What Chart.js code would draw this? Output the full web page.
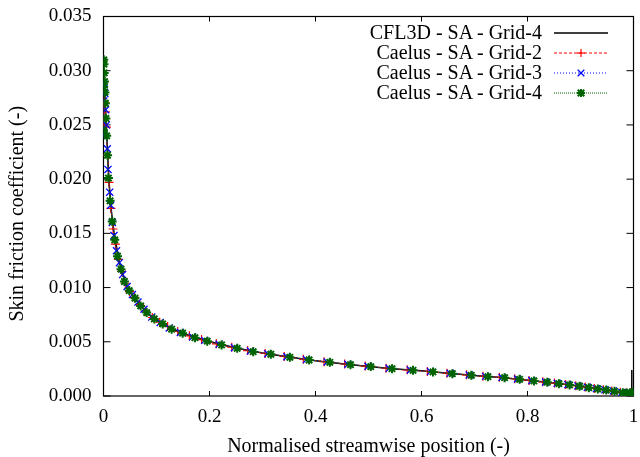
<!DOCTYPE html>
<html>
<head>
<meta charset="utf-8">
<script src="https://cdn.jsdelivr.net/npm/chart.js@4.4.1/dist/chart.umd.min.js"></script>
<style>
  html, body { margin: 0; padding: 0; background: #fff; }
  #wrap { position: relative; width: 640px; height: 457px; }
  #legend { position: absolute; left: 0; top: 0; width: 640px; height: 457px; pointer-events: none;
            font-family: "Liberation Serif", "DejaVu Serif", serif; font-size: 20px; color: #000; }
  .lt { position: absolute; right: 98px; white-space: nowrap; line-height: 20px; text-align: right; }
  .ls { position: absolute; left: 554px; width: 54px; height: 20px; }
</style>
</head>
<body>
<div id="wrap">
  <canvas id="c" width="640" height="457"></canvas>
  <div id="legend"></div>
</div>
<script>
// ---- data ----
const xTickLabels = ['0', '0.2', '0.4', '0.6', '0.8', '1'];
const yTickLabels = ['0.000', '0.005', '0.010', '0.015', '0.020', '0.025', '0.030', '0.035'];

const seriesNames = ['CFL3D - SA - Grid-4', 'Caelus - SA - Grid-2', 'Caelus - SA - Grid-3', 'Caelus - SA - Grid-4'];

const cflX = [0, 0.0005, 0.001, 0.002, 0.004, 0.007, 0.01, 0.015, 0.02, 0.03,
  0.04, 0.05, 0.06, 0.08, 0.1, 0.125, 0.15, 0.2, 0.25, 0.3,
  0.35, 0.4, 0.45, 0.5, 0.55, 0.6, 0.65, 0.7, 0.75, 0.8,
  0.85, 0.9, 0.95, 0.98, 0.9955, 0.9968];
const cflY = [0.0250, 0.0300, 0.0300, 0.0285, 0.0262, 0.0232, 0.0200, 0.0170, 0.0150, 0.0123,
  0.01065, 0.00955, 0.00895, 0.00775, 0.0070, 0.00625, 0.00577, 0.00502, 0.00443, 0.00397,
  0.00359, 0.00326, 0.00298, 0.00273, 0.0025, 0.00232, 0.0021, 0.00189, 0.0017, 0.00146,
  0.0012, 0.00089, 0.00054, 0.0003, 0.00022, 0.0024];

const g2X = [0, 0.0004, 0.001, 0.002, 0.0035, 0.0055, 0.0078, 0.0105, 0.014, 0.018,
  0.0225, 0.028, 0.034, 0.041, 0.049, 0.058, 0.068, 0.079, 0.092, 0.106,
  0.121, 0.14, 0.162, 0.185, 0.213, 0.242, 0.272, 0.305, 0.341, 0.377,
  0.416, 0.455, 0.494, 0.533, 0.573, 0.611, 0.648, 0.685, 0.716, 0.747,
  0.776, 0.803, 0.829, 0.851, 0.872, 0.891, 0.909, 0.926, 0.943, 0.959,
  0.975, 0.986, 0.994, 0.998];
const g2Y = [0.0250, 0.0268, 0.0272, 0.0270, 0.0262, 0.0248, 0.0222, 0.0197, 0.0173, 0.0154,
  0.0140, 0.0126, 0.0115, 0.0104, 0.00962, 0.0091, 0.00843, 0.00782, 0.00724, 0.0068,
  0.00642, 0.00595, 0.00555, 0.0052, 0.00481, 0.0045, 0.00419, 0.00393, 0.00365, 0.0034,
  0.00317, 0.00295, 0.00276, 0.00257, 0.00241, 0.00226, 0.0021, 0.00195, 0.00182, 0.00172,
  0.00159, 0.00144, 0.00131, 0.00119, 0.00106, 0.00095, 0.00082, 0.0007, 0.00058, 0.00047,
  0.00034, 0.00028, 0.00027, 0.0003];

const g3X = [0, 0.0003, 0.0008, 0.0015, 0.0025, 0.004, 0.0055, 0.0072, 0.0085,
  0.0117, 0.0136, 0.0166, 0.0198, 0.0245, 0.03, 0.036, 0.0445, 0.0545,
  0.065, 0.0765, 0.091, 0.107, 0.124, 0.145, 0.168, 0.191, 0.218, 0.247,
  0.277, 0.31, 0.346, 0.383, 0.422, 0.461, 0.499, 0.539, 0.579, 0.617,
  0.654, 0.69, 0.721, 0.752, 0.781, 0.808, 0.834, 0.856, 0.876, 0.895,
  0.913, 0.93, 0.946, 0.962, 0.978, 0.988, 0.995, 0.9985];
const g3Y = [0.0240, 0.0272, 0.0289, 0.0287, 0.0279, 0.0264, 0.0250, 0.0228, 0.0209,
  0.0188, 0.0176, 0.0160, 0.0148, 0.0134, 0.0123, 0.0112, 0.0101, 0.00935,
  0.00866, 0.008, 0.00728, 0.00678, 0.00628, 0.00586, 0.00545, 0.00513, 0.00478, 0.00446,
  0.00416, 0.0039, 0.00362, 0.00336, 0.00314, 0.00293, 0.00274, 0.00255, 0.0024, 0.00225,
  0.00209, 0.00194, 0.00181, 0.00171, 0.00157, 0.00142, 0.00129, 0.00117, 0.00105, 0.00093,
  0.0008, 0.00068, 0.00057, 0.00046, 0.00033, 0.00028, 0.00028, 0.00033];

const g4X = [0, 0.0002, 0.0005, 0.0009, 0.0014, 0.002, 0.0027, 0.0035, 0.0045,
  0.006, 0.0075, 0.0093, 0.0125, 0.0165, 0.0212, 0.0265, 0.033, 0.0395,
  0.0486, 0.0594, 0.0701, 0.0814, 0.0958, 0.1116, 0.1286, 0.1493, 0.1725, 0.1957,
  0.2228, 0.2522, 0.2824, 0.3157, 0.3516, 0.3879, 0.427, 0.466, 0.5042, 0.5444,
  0.584, 0.6217, 0.6582, 0.694, 0.7253, 0.7568, 0.7851, 0.8121, 0.8373, 0.8592,
  0.8794, 0.8982, 0.9157, 0.9327, 0.9485, 0.9642, 0.9798, 0.9875, 0.9935, 0.9975,
  0.9995];
const g4Y = [0.0245, 0.0285, 0.0310, 0.0306, 0.0298, 0.0290, 0.0280, 0.0270, 0.0256,
  0.0240, 0.0222, 0.0201, 0.0180, 0.0161, 0.0144, 0.0129, 0.0117, 0.01056,
  0.00972, 0.00902, 0.00831, 0.00769, 0.00711, 0.00665, 0.00616, 0.00579, 0.00538, 0.00506,
  0.00471, 0.0044, 0.00409, 0.00385, 0.00357, 0.00332, 0.00311, 0.00289, 0.00271, 0.00252,
  0.00237, 0.00222, 0.00206, 0.00191, 0.00178, 0.00169, 0.00154, 0.00139, 0.00127, 0.00114,
  0.00102, 0.0009, 0.00077, 0.00065, 0.00055, 0.00043, 0.0003, 0.00027, 0.00027, 0.0003,
  0.00035];

// ---- styling ----
const FONT = '"Liberation Serif", "DejaVu Serif", serif';
const colors = ['#000000', '#ff0000', '#0000ff', '#006400'];
const pts = (xs, ys) => xs.map((v, i) => ({x: v, y: ys[i]}));

const framePlugin = {
  id: 'frame',
  beforeDatasetsDraw(chart) {
    const {ctx, chartArea: a, scales: {x, y}} = chart;
    ctx.save();
    ctx.strokeStyle = '#000';
    ctx.lineWidth = 1;
    ctx.beginPath();
    x.ticks.forEach(t => {
      const px = x.getPixelForValue(t.value);
      ctx.moveTo(px, a.bottom); ctx.lineTo(px, a.bottom - 5);
      ctx.moveTo(px, a.top); ctx.lineTo(px, a.top + 5);
    });
    y.ticks.forEach(t => {
      const py = y.getPixelForValue(t.value);
      ctx.moveTo(a.left, py); ctx.lineTo(a.left + 7, py);
      ctx.moveTo(a.right, py); ctx.lineTo(a.right - 7, py);
    });
    ctx.stroke();
    ctx.lineWidth = 1.2;
    ctx.strokeRect(a.left, a.top, a.right - a.left, a.bottom - a.top);
    ctx.restore();
  }
};

new Chart(document.getElementById('c'), {
  type: 'scatter',
  data: {
    datasets: [
      { label: seriesNames[0], data: pts(cflX, cflY), showLine: true, borderColor: colors[0],
        borderWidth: 1.5, pointRadius: 0, order: 3 },
      { label: seriesNames[1], data: pts(g2X, g2Y), showLine: true, borderColor: colors[1],
        backgroundColor: colors[1], borderWidth: 1, borderDash: [3, 2], pointStyle: 'cross',
        pointRadius: 4.5, pointBorderWidth: 1.2, pointBorderColor: colors[1], order: 2 },
      { label: seriesNames[2], data: pts(g3X, g3Y), showLine: true, borderColor: colors[2],
        backgroundColor: colors[2], borderWidth: 1, borderDash: [1, 2], pointStyle: 'crossRot',
        pointRadius: 5, pointBorderWidth: 1.3, pointBorderColor: colors[2], order: 1 },
      { label: seriesNames[3], data: pts(g4X, g4Y), showLine: true, borderColor: colors[3],
        backgroundColor: colors[3], borderWidth: 1, borderDash: [1, 1], pointStyle: 'star',
        pointRadius: 4.5, pointBorderWidth: 2, pointBorderColor: colors[3], order: 0 }
    ]
  },
  options: {
    responsive: false,
    devicePixelRatio: 1,
    animation: false,
    events: [],
    elements: { line: { tension: 0, fill: false } },
    layout: { padding: { top: 16.5, right: 6, left: 0, bottom: 0 } },
    plugins: { legend: { display: false }, tooltip: { enabled: false } },
    scales: {
      x: {
        type: 'linear', min: 0, max: 1,
        afterFit: s => { s.height = 61; s.paddingLeft = 0; s.paddingRight = 0; },
        grid: { display: false, drawTicks: false },
        border: { display: false },
        ticks: { stepSize: 0.2, padding: 10, color: '#000', maxRotation: 0,
                 font: { family: FONT, size: 19 },
                 callback: (v, i) => xTickLabels[i] },
        title: { display: true, text: 'Normalised streamwise position (-)', color: '#000',
                 font: { family: FONT, size: 20, lineHeight: 1 }, padding: { top: 0, bottom: 0 } }
      },
      y: {
        type: 'linear', min: 0, max: 0.035,
        afterFit: s => { s.width = 103.5; s.paddingTop = 0; s.paddingBottom = 0; },
        grid: { display: false, drawTicks: false },
        border: { display: false },
        ticks: { stepSize: 0.005, padding: 12, color: '#000',
                 font: { family: FONT, size: 19 },
                 callback: (v, i) => yTickLabels[i] },
        title: { display: true, text: 'Skin friction coefficient (-)   ', color: '#000',
                 font: { family: FONT, size: 20, lineHeight: 1 }, padding: { top: 7.5, bottom: 0 } }
      }
    }
  },
  plugins: [framePlugin]
});

// ---- gnuplot-style legend (text then sample) ----
const legendStyles = [
  { dash: '', w: 1.5, marker: '' },
  { dash: '3,2', w: 1, marker: 'plus' },
  { dash: '1,2', w: 1, marker: 'x' },
  { dash: '1,1', w: 1, marker: 'star' }
];
function markerSvg(kind, c) {
  const cx = 27, cy = 10;
  const plus = `<line x1="${cx-4}" y1="${cy}" x2="${cx+4}" y2="${cy}" stroke="${c}" stroke-width="1.2"/><line x1="${cx}" y1="${cy-4}" x2="${cx}" y2="${cy+4}" stroke="${c}" stroke-width="1.2"/>`;
  const cr = `<line x1="${cx-3.3}" y1="${cy-3.3}" x2="${cx+3.3}" y2="${cy+3.3}" stroke="${c}" stroke-width="1.3"/><line x1="${cx-3.3}" y1="${cy+3.3}" x2="${cx+3.3}" y2="${cy-3.3}" stroke="${c}" stroke-width="1.3"/>`;
  if (kind === 'plus') return plus;
  if (kind === 'x') return cr;
  if (kind === 'star') return (plus + cr).replace(/stroke-width="1\.[23]"/g, 'stroke-width="2"');
  return '';
}
const legend = document.getElementById('legend');
seriesNames.forEach((name, k) => {
  const cy = 33.3 + 20 * k;
  const t = document.createElement('div');
  t.className = 'lt';
  t.style.top = (cy - 11.5) + 'px';
  t.textContent = name;
  legend.appendChild(t);
  const st = legendStyles[k];
  const svg = `<svg class="ls" style="top:${cy - 10}px" width="54" height="20" xmlns="http://www.w3.org/2000/svg">
    <line x1="0" y1="10" x2="54" y2="10" stroke="${colors[k]}" stroke-width="${st.w}" ${st.dash ? `stroke-dasharray="${st.dash}"` : ''}/>
    ${markerSvg(st.marker, colors[k])}</svg>`;
  legend.insertAdjacentHTML('beforeend', svg);
});
</script>
</body>
</html>
